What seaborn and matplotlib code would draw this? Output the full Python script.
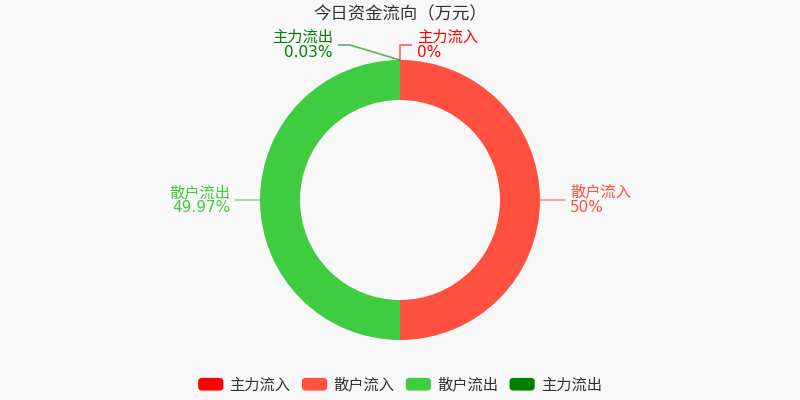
import numpy as np
import seaborn as sns
import matplotlib.pyplot as plt
from matplotlib.patches import FancyBboxPatch, Patch
from matplotlib.legend_handler import HandlerPatch

# data (万元 shares)
categories = ['主力流入', '散户流入', '散户流出', '主力流出']
values = [0, 50, 49.97, 0.03]
pct_labels = ['0%', '50%', '49.97%', '0.03%']
colors = ['#ff0000', '#ff5040', '#40cc40', '#008000']

# label layout: elbow offset from the wedge anchor (pixels)
elbow_offsets = [(0, 15), (13, 0), (-13, 0), (-50, 15)]


class RoundBox(HandlerPatch):
    def create_artists(self, legend, orig_handle, xdescent, ydescent,
                       width, height, fontsize, trans):
        p = FancyBboxPatch((-xdescent, -ydescent), width, height,
                           boxstyle='round,pad=0,rounding_size=%f' % (height * 0.3),
                           facecolor=orig_handle.get_facecolor(),
                           edgecolor='none', transform=trans)
        return [p]


sns.set_theme(style='white')
plt.rcParams['font.family'] = ['DejaVu Sans', 'Noto Sans CJK SC']
bg = '#f8f8f8'

fig = plt.figure(figsize=(8, 4), dpi=100, facecolor=bg)
ax = fig.add_axes([0, 0, 1, 1])
ax.set_facecolor(bg)
ax.axis('off')

cx, cy, R = 400, 200, 140
wedges, _ = ax.pie(values, colors=colors, startangle=90, counterclock=False,
                   radius=R, center=(cx, cy),
                   wedgeprops=dict(width=40, linewidth=0))
ax.set_xlim(0, 800)
ax.set_ylim(0, 400)
ax.set_aspect('equal')

for w, cat, pct, col, (dx, dy) in zip(wedges, categories, pct_labels, colors, elbow_offsets):
    mid = np.deg2rad((w.theta1 + w.theta2) / 2)
    ax0, ay0 = cx + R * np.cos(mid), cy + R * np.sin(mid)
    ex, ey = ax0 + dx, ay0 + dy
    side = 1 if (dx > 0 or (dx == 0 and np.cos(mid) >= -1e-9)) else -1
    endx = ex + side * 12
    ax.plot([ax0, ex, endx], [ay0, ey, ey], color=col, alpha=0.6, lw=1.2,
            solid_capstyle='butt')
    ax.text(endx + side * 5, ey, f'{cat}\n{pct}', color=col, fontsize=11,
            ha='left' if side > 0 else 'right', va='center',
            multialignment='left' if side > 0 else 'right', linespacing=1.05)

fig.text(0.5, 1 - 14 / 400, '今日资金流向（万元）', ha='center', va='center',
         fontsize=12.5, color='#333333', fontweight='medium')

handles = [Patch(facecolor=c, label=l) for c, l in zip(colors, categories)]
fig.legend(handles=handles, loc='center', bbox_to_anchor=(0.5, 15 / 400),
           ncol=4, frameon=False, fontsize=11, handlelength=1.65,
           handleheight=0.9, handletextpad=0.4, columnspacing=0.75,
           labelcolor='#333333',
           handler_map={Patch: RoundBox()})

fig.savefig('out.png', dpi=100, facecolor=bg)
